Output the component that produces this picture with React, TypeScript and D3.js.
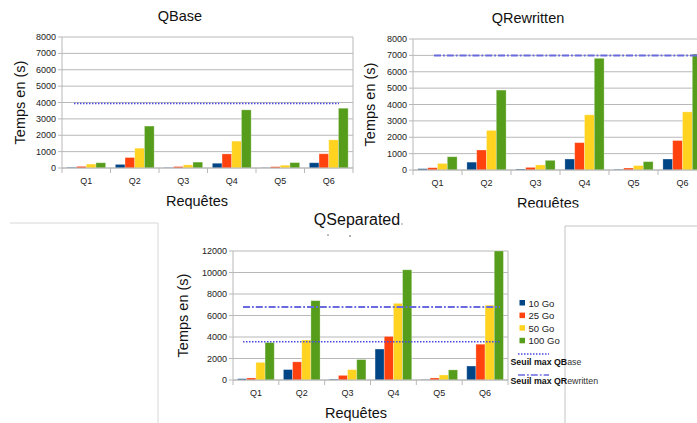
import React from "react";
import * as d3 from "d3";

const queries = ["Q1", "Q2", "Q3", "Q4", "Q5", "Q6"];
const seriesNames = ["10 Go", "25 Go", "50 Go", "100 Go"];
const seriesColors = ["#004586", "#ff420e", "#ffd320", "#579d1c"];

// QBase
const qbase10 = [40, 220, 25, 290, 15, 320];
const qbase25 = [100, 640, 90, 860, 80, 870];
const qbase50 = [240, 1210, 190, 1640, 170, 1720];
const qbase100 = [320, 2560, 360, 3550, 330, 3650];
const qbaseMax = 3940;

// QRewritten
const qrw10 = [80, 480, 60, 670, 40, 670];
const qrw25 = [140, 1220, 160, 1670, 120, 1800];
const qrw50 = [400, 2420, 310, 3370, 270, 3550];
const qrw100 = [810, 4880, 590, 6820, 510, 7080];
const qrwMax = 7000;

// QSeparated
const qsep10 = [120, 970, 80, 2880, 40, 1300];
const qsep25 = [190, 1690, 430, 4050, 190, 3330];
const qsep50 = [1640, 3720, 960, 7130, 470, 6960];
const qsep100 = [3480, 7380, 1900, 10250, 940, 12000];
const qsepBaseMax = 3560;
const qsepRwMax = 6780;

const yTicksSmall = [0, 1000, 2000, 3000, 4000, 5000, 6000, 7000, 8000];
const yTicksLarge = [0, 2000, 4000, 6000, 8000, 10000, 12000];

const FONT = "'Liberation Sans', Arial, Helvetica, sans-serif";
const GRID = "#b8b8b8";
const DOT_COLOR = "#4a4ae0";
const DASH_COLOR = "#6a6ae0";
const DOT_DASH = "1.5 1.5";
const DASHDOT = "7 2 1.8 2";

type Threshold = { value: number; from: number; to: number; kind: "dot" | "dashdot" };

type ChartProps = {
  title: string;
  titleX: number;
  titleY: number;
  titleSize: number;
  x0: number;
  x1: number;
  y0: number;
  y1: number;
  yMax: number;
  ticks: number[];
  values: number[][];
  thresholds: Threshold[];
  yTitleX: number;
  xTitleX?: number;
};

function BarChart(p: ChartProps) {
  const x = d3.scaleBand<string>().domain(queries).range([p.x0, p.x1]).padding(0);
  const xs = d3
    .scaleBand<string>()
    .domain(seriesNames)
    .range([0, x.bandwidth()])
    .paddingInner(0)
    .paddingOuter(0.5);
  const y = d3.scaleLinear().domain([0, p.yMax]).range([p.y1, p.y0]);
  const bounds = [...queries.map((q) => x(q) as number), p.x1];
  const yMid = (p.y0 + p.y1) / 2;
  const xMid = p.xTitleX ?? (p.x0 + p.x1) / 2;
  return (
    <g>
      <text
        x={p.titleX}
        y={p.titleY}
        textAnchor="middle"
        dominantBaseline="central"
        fontSize={p.titleSize}
        fill="#111"
      >
        {p.title}
      </text>
      {p.ticks.map((t) => (
        <g key={t}>
          <line x1={p.x0} x2={p.x1} y1={y(t)} y2={y(t)} stroke={GRID} strokeWidth={1} />
          <line x1={p.x0 - 4} x2={p.x0} y1={y(t)} y2={y(t)} stroke={GRID} strokeWidth={1} />
          <text
            x={p.x0 - 6}
            y={y(t)}
            textAnchor="end"
            dominantBaseline="central"
            fontSize={9}
            fill="#222"
          >
            {t}
          </text>
        </g>
      ))}
      <line x1={p.x1} x2={p.x1} y1={p.y0} y2={p.y1} stroke={GRID} strokeWidth={1} />
      <line x1={p.x0} x2={p.x0} y1={p.y0} y2={p.y1} stroke={GRID} strokeWidth={1} />
      {bounds.map((b, i) => (
        <line key={i} x1={b} x2={b} y1={p.y1} y2={p.y1 + 5} stroke={GRID} strokeWidth={1} />
      ))}
      {queries.map((q, qi) => (
        <g key={q}>
          {seriesNames.map((s, si) => {
            const v = p.values[si][qi];
            const top = y(Math.min(v, p.yMax));
            return (
              <rect
                key={s}
                x={(x(q) as number) + (xs(s) as number)}
                y={top}
                width={xs.bandwidth()}
                height={p.y1 - top}
                fill={seriesColors[si]}
                stroke="#ffffff"
                strokeOpacity={0.35}
                strokeWidth={0.8}
              />
            );
          })}
          <text
            x={(x(q) as number) + x.bandwidth() / 2}
            y={p.y1 + 13}
            textAnchor="middle"
            dominantBaseline="central"
            fontSize={9}
            fill="#222"
          >
            {q}
          </text>
        </g>
      ))}
      {p.thresholds.map((t, i) => (
        <line
          key={i}
          x1={t.from}
          x2={t.to}
          y1={y(t.value)}
          y2={y(t.value)}
          stroke={t.kind === "dot" ? DOT_COLOR : DASH_COLOR}
          strokeWidth={t.kind === "dot" ? 1.5 : 2}
          strokeDasharray={t.kind === "dot" ? DOT_DASH : DASHDOT}
        />
      ))}
      <line x1={p.x0} x2={p.x1} y1={p.y1} y2={p.y1} stroke={GRID} strokeWidth={1} />
      <text
        x={xMid}
        y={p.y1 + 33}
        textAnchor="middle"
        dominantBaseline="central"
        fontSize={14.5}
        fill="#111"
      >
        Requêtes
      </text>
      <text
        transform={`translate(${p.yTitleX},${yMid}) rotate(-90)`}
        textAnchor="middle"
        dominantBaseline="central"
        fontSize={14.5}
        fill="#111"
      >
        Temps en (s)
      </text>
    </g>
  );
}

export default function App() {
  return (
    <svg
      width={697}
      height={423}
      style={{ position: "absolute", left: 0, top: 0, background: "#fff" }}
      fontFamily={FONT}
    >
      <rect x={0} y={0} width={697} height={423} fill="#fff" />
      <BarChart
        title="QBase"
        titleX={180}
        titleY={16}
        titleSize={14.5}
        x0={62}
        x1={353}
        y0={37}
        y1={168}
        yMax={8000}
        ticks={yTicksSmall}
        values={[qbase10, qbase25, qbase50, qbase100]}
        thresholds={[{ value: qbaseMax, from: 74, to: 339, kind: "dot" }]}
        yTitleX={20}
        xTitleX={197}
      />
      <BarChart
        title="QRewritten"
        titleX={528}
        titleY={18}
        titleSize={14.5}
        x0={413}
        x1={707}
        y0={39}
        y1={170}
        yMax={8000}
        ticks={yTicksSmall}
        values={[qrw10, qrw25, qrw50, qrw100]}
        thresholds={[{ value: qrwMax, from: 434, to: 697, kind: "dashdot" }]}
        yTitleX={370}
        xTitleX={548}
      />
      {/* cover clipping bottom of QRewritten x title */}
      <rect x={470} y={207.5} width={227} height={20} fill="#fff" />
      {/* surrounding frames */}
      <polyline points="10,223 158,223 158,423" fill="none" stroke="#d8d8d8" strokeWidth={1} />
      <polyline points="697,226 565,226 565,423" fill="none" stroke="#c4c4c4" strokeWidth={1} />
      <BarChart
        title="QSeparated"
        titleX={357}
        titleY={219}
        titleSize={16}
        x0={233}
        x1={508}
        y0={251}
        y1={380}
        yMax={12000}
        ticks={yTicksLarge}
        values={[qsep10, qsep25, qsep50, qsep100]}
        thresholds={[
          { value: qsepRwMax, from: 243, to: 500, kind: "dashdot" },
          { value: qsepBaseMax, from: 243, to: 500, kind: "dot" },
        ]}
        yTitleX={183}
        xTitleX={356}
      />
      <circle cx={402} cy={224} r={0.8} fill="#888" />
      <circle cx={328} cy={235} r={0.8} fill="#666" />
      <circle cx={350} cy={236} r={0.8} fill="#444" />
      {/* legend */}
      {seriesNames.map((s, i) => (
        <g key={s}>
          <rect x={519.5} y={300 + i * 12.6} width={5.5} height={5.5} fill={seriesColors[i]} />
          <text x={528.5} y={303 + i * 12.6} dominantBaseline="central" fontSize={9.5} fill="#222">
            {s}
          </text>
        </g>
      ))}
      <line x1={518} x2={549} y1={354} y2={354} stroke={DOT_COLOR} strokeWidth={1.3} strokeDasharray={DOT_DASH} />
      <text x={510.5} y={361.5} dominantBaseline="central" fontSize={8.8} fill="#111">
        <tspan fontWeight="bold">Seuil max QB</tspan>
        <tspan fill="#333">ase</tspan>
      </text>
      <line x1={518} x2={549} y1={375} y2={375} stroke={DASH_COLOR} strokeWidth={1.6} strokeDasharray={DASHDOT} />
      <text x={510.5} y={380.5} dominantBaseline="central" fontSize={8.8} fill="#111">
        <tspan fontWeight="bold">Seuil max QR</tspan>
        <tspan fill="#333">ewritten</tspan>
      </text>
    </svg>
  );
}
